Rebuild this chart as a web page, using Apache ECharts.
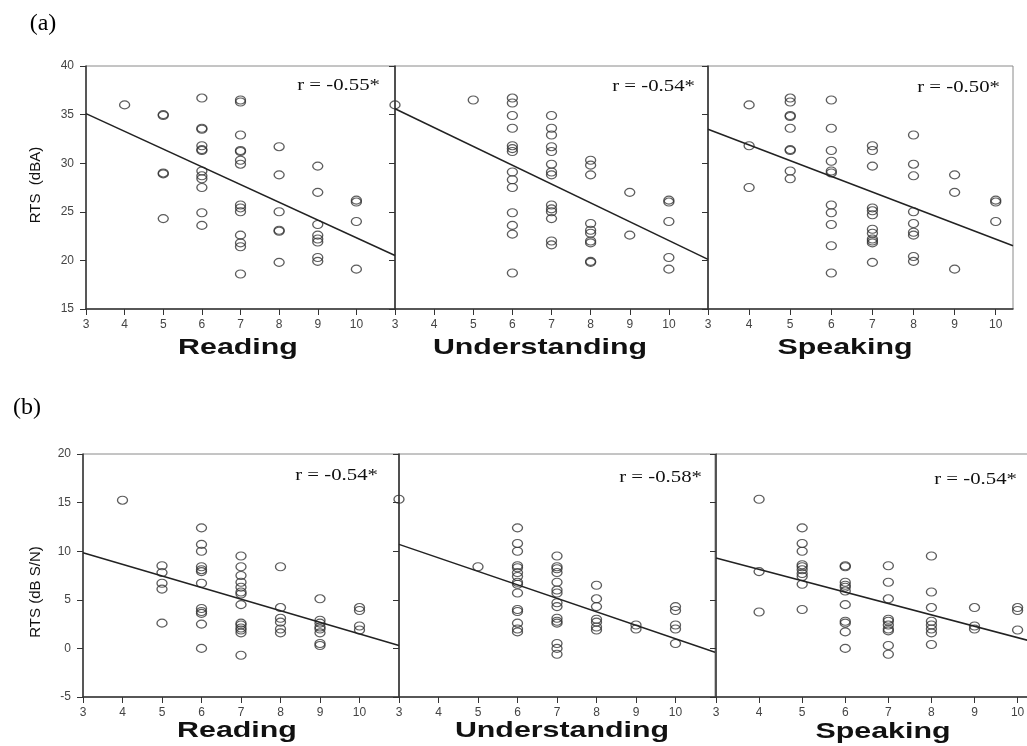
<!DOCTYPE html>
<html>
<head>
<meta charset="utf-8">
<script src="https://cdn.jsdelivr.net/npm/echarts@6/dist/echarts.min.js"></script>
<style>
  html, body { margin: 0; padding: 0; background: #fff; }
  #chart { width: 1027px; height: 746px; }
</style>
</head>
<body>
<div id="chart"></div>
<script>
// tick labels
const xTicks = [3, 4, 5, 6, 7, 8, 9, 10];

// (a) RTS in dBA vs score
const readA = [
    [4, 36.0],
    [5, 35.0], [5, 34.9], [5, 29.0], [5, 28.9], [5, 24.3],
    [6, 36.7], [6, 33.6], [6, 33.5], [6, 31.8], [6, 31.4], [6, 31.3], [6, 29.2], [6, 28.7], [6, 28.4], [6, 27.5], [6, 24.9], [6, 23.6],
    [7, 36.5], [7, 36.3], [7, 32.9], [7, 31.3], [7, 31.2], [7, 30.3], [7, 29.9], [7, 25.7], [7, 25.4], [7, 25.0], [7, 22.6], [7, 21.8], [7, 21.4], [7, 18.6],
    [8, 31.7], [8, 28.8], [8, 25.0], [8, 23.1], [8, 23.0], [8, 19.8],
    [9, 29.7], [9, 27.0], [9, 23.7], [9, 22.6], [9, 22.2], [9, 21.9], [9, 20.3], [9, 19.9],
    [10, 26.2], [10, 26.0], [10, 24.0], [10, 19.1]
];
const undA = [
    [3, 36.0], [5, 36.5],
    [6, 36.7], [6, 36.2], [6, 34.9], [6, 33.6], [6, 31.8], [6, 31.5], [6, 31.2], [6, 29.1], [6, 28.3], [6, 27.5], [6, 24.9], [6, 23.6], [6, 22.7], [6, 18.7],
    [7, 34.9], [7, 33.6], [7, 32.9], [7, 31.7], [7, 31.2], [7, 29.9], [7, 29.1], [7, 28.8], [7, 25.7], [7, 25.3], [7, 25.0], [7, 24.3], [7, 22.0], [7, 21.6],
    [8, 30.3], [8, 29.8], [8, 28.8], [8, 23.8], [8, 23.1], [8, 22.8], [8, 22.0], [8, 21.8], [8, 19.9], [8, 19.8],
    [9, 27.0], [9, 22.6],
    [10, 26.2], [10, 26.0], [10, 24.0], [10, 20.3], [10, 19.1]
];
const speA = [
    [4, 36.0], [4, 31.8], [4, 27.5],
    [5, 36.7], [5, 36.3], [5, 34.9], [5, 34.8], [5, 33.6], [5, 31.4], [5, 31.3], [5, 29.2], [5, 28.4],
    [6, 36.5], [6, 33.6], [6, 31.3], [6, 30.2], [6, 29.2], [6, 29.0], [6, 25.7], [6, 24.9], [6, 23.7], [6, 21.5], [6, 18.7],
    [7, 31.8], [7, 31.3], [7, 29.7], [7, 25.4], [7, 25.1], [7, 24.7], [7, 23.2], [7, 22.8], [7, 22.2], [7, 22.0], [7, 21.8], [7, 19.8],
    [8, 32.9], [8, 29.9], [8, 28.7], [8, 25.0], [8, 23.8], [8, 22.9], [8, 22.6], [8, 20.4], [8, 19.9],
    [9, 28.8], [9, 27.0], [9, 19.1],
    [10, 26.2], [10, 26.0], [10, 24.0]
];

// (b) RTS in dB S/N vs score
const readB = [
    [4, 15.25],
    [5, 8.5], [5, 7.8], [5, 6.7], [5, 6.1], [5, 2.6],
    [6, 12.4], [6, 10.7], [6, 10.0], [6, 8.4], [6, 8.1], [6, 7.9], [6, 6.7], [6, 4.1], [6, 3.8], [6, 3.6], [6, 2.5], [6, 0.0],
    [7, 9.5], [7, 8.4], [7, 7.5], [7, 6.8], [7, 6.3], [7, 5.8], [7, 5.6], [7, 4.5], [7, 2.6], [7, 2.4], [7, 2.1], [7, 1.9], [7, 1.6], [7, -0.7],
    [8, 8.4], [8, 4.2], [8, 3.1], [8, 2.7], [8, 2.0], [8, 1.6],
    [9, 5.1], [9, 2.9], [9, 2.6], [9, 2.2], [9, 2.0], [9, 1.6], [9, 0.5], [9, 0.3],
    [10, 4.2], [10, 3.9], [10, 2.3], [10, 1.9]
];
const undB = [
    [3, 15.35], [5, 8.4],
    [6, 12.4], [6, 10.8], [6, 10.0], [6, 8.5], [6, 8.3], [6, 7.8], [6, 7.4], [6, 6.8], [6, 6.6], [6, 5.7], [6, 4.0], [6, 3.8], [6, 2.6], [6, 2.0], [6, 1.7],
    [7, 9.5], [7, 8.4], [7, 8.2], [7, 7.8], [7, 6.8], [7, 6.0], [7, 5.7], [7, 4.7], [7, 4.3], [7, 3.1], [7, 2.8], [7, 2.6], [7, 0.5], [7, 0.0], [7, -0.6],
    [8, 6.5], [8, 5.1], [8, 4.3], [8, 3.0], [8, 2.7], [8, 2.2], [8, 1.9],
    [9, 2.4], [9, 2.0],
    [10, 4.3], [10, 3.9], [10, 2.4], [10, 2.0], [10, 0.5]
];
const speB = [
    [4, 15.35], [4, 7.9], [4, 3.75],
    [5, 12.4], [5, 10.8], [5, 10.0], [5, 8.6], [5, 8.4], [5, 8.1], [5, 7.7], [5, 7.4], [5, 6.6], [5, 4.0],
    [6, 8.5], [6, 8.4], [6, 6.8], [6, 6.5], [6, 6.3], [6, 5.9], [6, 4.5], [6, 2.8], [6, 2.6], [6, 1.7], [6, 0.0],
    [7, 8.5], [7, 6.8], [7, 5.1], [7, 3.0], [7, 2.8], [7, 2.4], [7, 2.0], [7, 1.8], [7, 0.3], [7, -0.6],
    [8, 9.5], [8, 5.8], [8, 4.2], [8, 2.8], [8, 2.4], [8, 2.0], [8, 1.6], [8, 0.4],
    [9, 4.2], [9, 2.3], [9, 2.0],
    [10, 4.2], [10, 3.9], [10, 1.9]
];

// fit lines, end points
const fitA = [
    [[3, 35.1], [11, 20.5]],
    [[3, 35.6], [11, 20.1]],
    [[3, 33.5], [10.42, 21.5]]
];
const fitB = [
    [[3, 9.85], [11, 0.3]],
    [[3, 10.7], [11, -0.4]],
    [[3, 9.3], [10.52, 0.5]]
];
const rLabelsA = ['r = -0.55*', 'r = -0.54*', 'r = -0.50*'];
const rLabelsB = ['r = -0.54*', 'r = -0.58*', 'r = -0.54*'];
const xNames = ['Reading', 'Understanding', 'Speaking'];

const chart = echarts.init(document.getElementById('chart'));

// panel boxes [left, top, width, height, xmax]
const panels = [
    [86, 66, 309, 243, 11],
    [395, 66, 313, 243, 11],
    [708, 66, 305, 243, 10.42],
    [83, 454, 316, 243, 11],
    [399, 454, 316, 243, 11],
    [716, 454, 324, 243, 10.52]
];
const scatterData = [readA, undA, speA, readB, undB, speB];
const fitData = fitA.concat(fitB);

const axisColor = '#333';
const grids = [], xAxes = [], yAxes = [], series = [];

panels.forEach((p, i) => {
    const top = i < 3;
    grids.push({
        left: p[0], top: p[1], width: p[2], height: p[3],
        show: true, borderColor: '#8a8a8a', borderWidth: 1,
        outerBoundsMode: 'none'
    });
    xAxes.push({
        type: 'value', gridIndex: i, min: 3, max: p[4], interval: 1,
        axisLine: { show: true, onZero: false, lineStyle: { color: axisColor, width: 1.5 } },
        axisTick: { show: true, length: 6, customValues: xTicks, lineStyle: { color: axisColor } },
        axisLabel: { customValues: xTicks, margin: 10, color: '#444', fontSize: 12, fontFamily: 'Liberation Sans' },
        splitLine: { show: false }
    });
    yAxes.push({
        type: 'value', gridIndex: i,
        min: top ? 15 : -5, max: top ? 40 : 20, interval: 5,
        axisLine: { show: true, onZero: false, lineStyle: { color: axisColor, width: 1.5 } },
        axisTick: { show: true, length: 6, lineStyle: { color: axisColor } },
        axisLabel: { show: i === 0 || i === 3, margin: 12, color: '#444', fontSize: 12, fontFamily: 'Liberation Sans' },
        splitLine: { show: false }
    });
    series.push({
        type: 'scatter', xAxisIndex: i, yAxisIndex: i,
        data: scatterData[i],
        symbol: 'circle', symbolSize: [10, 8],
        itemStyle: { color: 'rgba(0,0,0,0)', borderColor: '#333', borderWidth: 1.2 },
        silent: true
    });
    series.push({
        type: 'line', xAxisIndex: i, yAxisIndex: i,
        data: fitData[i],
        showSymbol: false, symbol: 'none',
        lineStyle: { color: '#222', width: 1.5 },
        silent: true
    });
});

const rPos = [[380, 86], [695, 87], [1000, 88], [378, 476], [702, 478], [1017, 480]];
const rTexts = rLabelsA.concat(rLabelsB);
const titlePos = [[238, 348], [540, 348], [845, 348], [237, 731], [562, 731], [883, 732]];

const graphics = [];
rPos.forEach((p, i) => {
    graphics.push({
        type: 'text', x: p[0], y: p[1], scaleX: 1.3,
        style: { text: rTexts[i], align: 'right', textAlign: 'right', verticalAlign: 'middle', textVerticalAlign: 'middle',
            font: '16px "Liberation Serif"', fill: '#111' }
    });
});
titlePos.forEach((p, i) => {
    graphics.push({
        type: 'text', x: p[0], y: p[1], scaleX: 1.38,
        style: { text: xNames[i % 3], align: 'center', textAlign: 'center', verticalAlign: 'middle', textVerticalAlign: 'middle',
            font: 'bold 22px "Liberation Sans"', fill: '#111' }
    });
});
// y axis names
graphics.push({
    type: 'text', x: 36, y: 185, rotation: Math.PI / 2,
    style: { text: 'RTS  (dBA)', align: 'center', textAlign: 'center', verticalAlign: 'middle', textVerticalAlign: 'middle',
        font: '15px "Liberation Sans"', fill: '#111' }
});
graphics.push({
    type: 'text', x: 36, y: 592, rotation: Math.PI / 2,
    style: { text: 'RTS (dB S/N)', align: 'center', textAlign: 'center', verticalAlign: 'middle', textVerticalAlign: 'middle',
        font: '15px "Liberation Sans"', fill: '#111' }
});
// panel letters
graphics.push({
    type: 'text', x: 43, y: 24,
    style: { text: '(a)', align: 'center', textAlign: 'center', verticalAlign: 'middle', textVerticalAlign: 'middle',
        font: '24px "Liberation Serif"', fill: '#000' }
});
graphics.push({
    type: 'text', x: 27, y: 408,
    style: { text: '(b)', align: 'center', textAlign: 'center', verticalAlign: 'middle', textVerticalAlign: 'middle',
        font: '24px "Liberation Serif"', fill: '#000' }
});

chart.setOption({
    animation: false,
    backgroundColor: '#fff',
    grid: grids,
    xAxis: xAxes,
    yAxis: yAxes,
    series: series,
    graphic: { elements: graphics }
});
</script>
</body>
</html>
